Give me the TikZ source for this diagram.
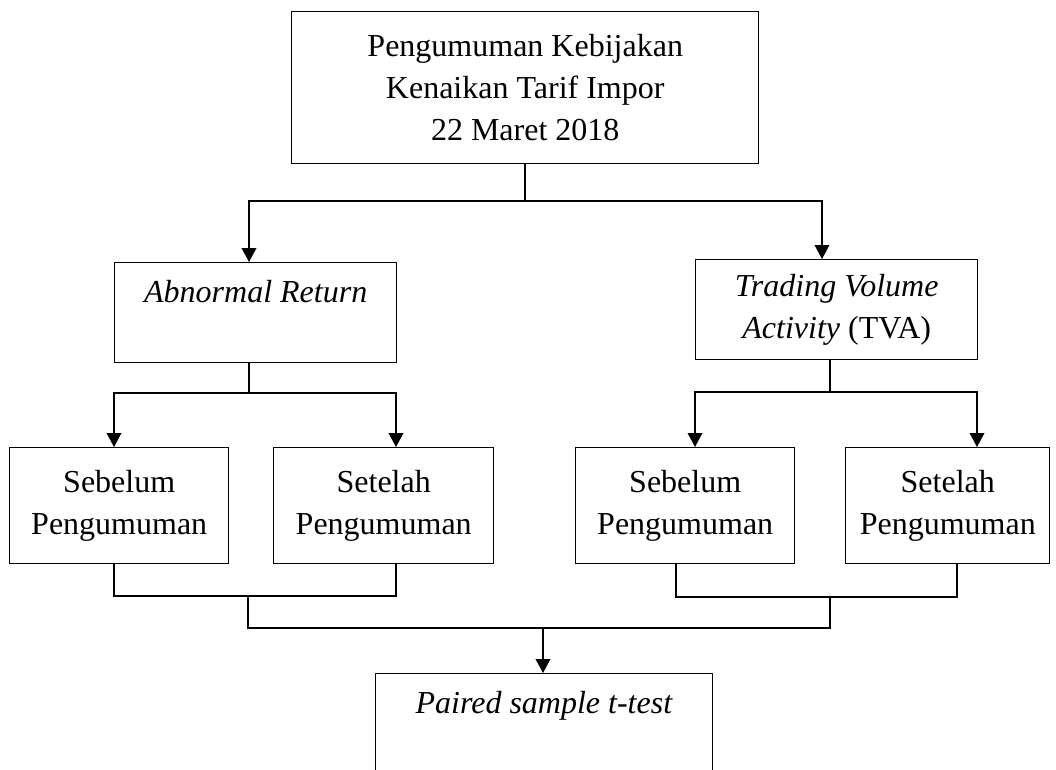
\documentclass[tikz,border=0pt]{standalone}
\usepackage{fontspec}
\setmainfont{Liberation Serif}
\usetikzlibrary{arrows.meta}
\tikzset{
  x=0.75pt, y=-0.75pt,
  box/.style={draw, line width=1.1pt, inner sep=0pt, align=center, anchor=north west,
    font=\fontsize{24pt}{31.5pt}\selectfont},
  conn/.style={line width=1.1pt},
  arr/.style={conn, -{Triangle[length=10.5pt,width=11pt]}}
}
\begin{document}
\begin{tikzpicture}
\useasboundingbox (0,0) rectangle (1056,770);
\clip (0,0) rectangle (1056,770);
\fill[white] (0,0) rectangle (1056,770);
% boxes
\node[box, minimum width=350.25pt, minimum height=114pt] (top) at (291,11)
  {Pengumuman Kebijakan\\Kenaikan Tarif Impor\\22 Maret 2018};
\node[box, minimum width=211.5pt, minimum height=75pt] (ar) at (114,262)
  {\textit{Abnormal Return}\\\mbox{}};
\node[box, minimum width=211.5pt, minimum height=75pt] (tva) at (695,259)
  {\textit{Trading Volume}\\\textit{Activity} (TVA)};
\node[box, minimum width=164.25pt, minimum height=87pt] (sb1) at (9,447)
  {Sebelum\\Pengumuman};
\node[box, minimum width=165pt, minimum height=87pt] (st1) at (273,447)
  {Setelah\\Pengumuman};
\node[box, minimum width=164.25pt, minimum height=87pt] (sb2) at (575,447)
  {Sebelum\\Pengumuman};
\node[box, minimum width=153pt, minimum height=87pt] (st2) at (845,447)
  {Setelah\\Pengumuman};
\node[box, minimum width=252.75pt, minimum height=106.5pt] (pt) at (375,673)
  {\textit{Paired sample t-test}\\\mbox{}\\\mbox{}};
% junction coordinates
\coordinate (j1) at (525,201);
\coordinate (aL) at (249,201);
\coordinate (aR) at (822,201);
\coordinate (j2) at (249,393);
\coordinate (d1) at (114,393);
\coordinate (d2) at (396,393);
\coordinate (j3) at (830,392);
\coordinate (d3) at (695,392);
\coordinate (d4) at (977,392);
\coordinate (b1) at (114,596);
\coordinate (b2) at (396,596);
\coordinate (jb1) at (248,596);
\coordinate (b3) at (676,597);
\coordinate (b4) at (957,597);
\coordinate (jb2) at (830,597);
\coordinate (m1) at (248,628);
\coordinate (m2) at (830,628);
\coordinate (mp) at (543,628);
% top level
\draw[conn] (top.south -| j1) -- (j1);
\draw[arr] (j1) -| (aL |- ar.north);
\draw[arr] (j1) -| (aR |- tva.north);
% abnormal return branch
\draw[conn] (ar.south -| j2) -- (j2);
\draw[arr] (j2) -| (d1 |- sb1.north);
\draw[arr] (j2) -| (d2 |- st1.north);
% TVA branch
\draw[conn] (tva.south -| j3) -- (j3);
\draw[arr] (j3) -| (d3 |- sb2.north);
\draw[arr] (j3) -| (d4 |- st2.north);
% bottom joins
\draw[conn] (sb1.south -| b1) |- (b2) -- (b2 |- st1.south);
\draw[conn] (sb2.south -| b3) |- (b4) -- (b4 |- st2.south);
\draw[conn] (jb1) -- (m1) -- (m2) -- (jb2);
\draw[arr] (mp) -- (mp |- pt.north);
\end{tikzpicture}
\end{document}
